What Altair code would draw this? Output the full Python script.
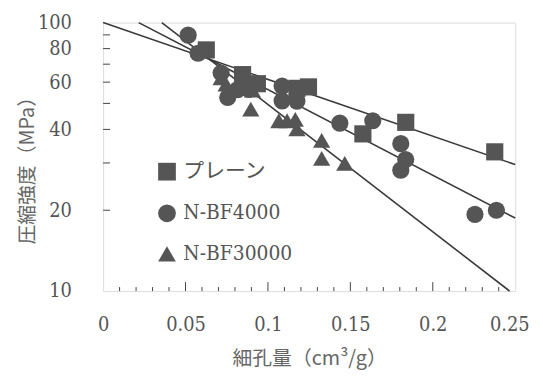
import altair as alt
import pandas as pd

series_names = ["プレーン", "N-BF4000", "N-BF30000"]

plain_x = [0.0626, 0.0846, 0.0936, 0.1176, 0.1246, 0.1576, 0.1836, 0.2376]
plain_y = [79.1, 64.0, 59.2, 56.9, 57.6, 38.5, 42.5, 33.0]

bf4000_x = [0.0516, 0.0576, 0.0716, 0.0756, 0.0816, 0.0886, 0.1086, 0.1086,
            0.1176, 0.1436, 0.1636, 0.1806, 0.1836, 0.1806, 0.2256, 0.2386]
bf4000_y = [89.8, 76.9, 64.9, 52.6, 56.3, 56.4, 58.0, 51.1,
            51.0, 42.2, 43.1, 35.4, 30.9, 28.2, 19.3, 20.0]

bf30000_x = [0.0716, 0.0746, 0.0896, 0.0906, 0.1066, 0.1116, 0.1166, 0.1176,
             0.1326, 0.1326, 0.1466]
bf30000_y = [62.3, 59.0, 47.6, 56.0, 43.1, 43.1, 43.6, 40.2, 36.4, 31.2, 29.9]

# fitted lines (end points)
line_x_start = [0.0, 0.0216, 0.0356]
line_y_start = [100, 100, 100]
line_x_end = [0.25, 0.25, 0.2466]
line_y_end = [29.6, 18.7, 10.0]

x_major_ticks = [0.05, 0.1, 0.15, 0.2]
x_minor_ticks = [0.01, 0.02, 0.03, 0.04, 0.06, 0.07, 0.08, 0.09, 0.11, 0.12,
                 0.13, 0.14, 0.16, 0.17, 0.18, 0.19, 0.21, 0.22, 0.23, 0.24]
y_ticks = [20, 30, 40, 50, 60, 70, 80, 90]
y_labels = [10, 20, 40, 60, 80, 100]
x_labels = [0, 0.05, 0.1, 0.15, 0.2, 0.25]

rows = []
for name, xs, ys in zip(series_names, [plain_x, bf4000_x, bf30000_x],
                        [plain_y, bf4000_y, bf30000_y]):
    for xv, yv in zip(xs, ys):
        rows.append({"series": name, "x": xv, "y": yv})
pts = pd.DataFrame(rows)

lrows = []
for name, x0, y0, x1, y1 in zip(series_names, line_x_start, line_y_start,
                                line_x_end, line_y_end):
    lrows.append({"series": name, "x": x0, "y": y0})
    lrows.append({"series": name, "x": x1, "y": y1})
lines_df = pd.DataFrame(lrows)

W, H = 416, 271
SERIF = "DejaVu Serif Condensed, DejaVu Serif"
SERIF_JP = "DejaVu Serif Condensed, DejaVu Serif, Noto Sans CJK JP"
CJK = "Noto Sans CJK JP"
TXT = "#555555"

xscale = alt.Scale(domain=[0, 0.25], nice=False, zero=False)
yscale = alt.Scale(type="log", domain=[10, 100], nice=False)

xaxis = alt.Axis(values=x_labels, format="~g", ticks=False, tickSize=0, domain=False,
                 grid=False, labelFont=SERIF, labelFontSize=20, labelColor=TXT,
                 labelPadding=24, labelFlush=False,
                 labelAlign=alt.ExprRef(expr="datum.value >= 0.249 ? 'right' : 'center'"),
                 labelOffset=alt.ExprRef(expr="datum.value >= 0.249 ? 14 : 0"),
                 title="細孔量（cm³/g）", titleFont=CJK,
                 titleFontSize=20, titleFontWeight="normal", titleColor="#666666",
                 titlePadding=14)
yaxis = alt.Axis(values=y_labels, format="d", ticks=False, tickSize=0, domain=False,
                 grid=False, labelFont=SERIF, labelFontSize=20, labelColor=TXT,
                 labelPadding=32, labelFlush=False,
                 title="圧縮強度（MPa）", titleFont=CJK,
                 titleFontSize=20, titleFontWeight="normal", titleColor="#666666",
                 titleX=-66, titleY=144)

lines = alt.Chart(lines_df).mark_line(color="#3a3a3a", strokeWidth=1.6).encode(
    x=alt.X("x:Q", scale=xscale, axis=xaxis),
    y=alt.Y("y:Q", scale=yscale, axis=yaxis),
    detail="series:N",
)

points = alt.Chart(pts).mark_point(filled=True, color="#555555", opacity=1,
                                   size=300).encode(
    x=alt.X("x:Q", scale=xscale),
    y=alt.Y("y:Q", scale=yscale),
    shape=alt.Shape("series:N",
                    scale=alt.Scale(domain=series_names,
                                    range=["square", "circle", "triangle-up"]),
                    legend=alt.Legend(title=None, orient="none", legendX=54, legendY=140,
                                      symbolSize=320, symbolFillColor="#555555",
                                      symbolStrokeColor="#555555",
                                      labelFont=SERIF_JP, labelFontSize=21,
                                      labelColor=TXT, rowPadding=17, labelOffset=6,
                                      symbolOpacity=1)),
)

xmaj = alt.Chart(pd.DataFrame({"t": x_major_ticks})).mark_rule(
    color="#444444", strokeWidth=1).encode(
    x=alt.X("t:Q", scale=xscale), y=alt.value(H), y2=alt.value(H - 9))
xmin = alt.Chart(pd.DataFrame({"t": x_minor_ticks})).mark_rule(
    color="#444444", strokeWidth=1).encode(
    x=alt.X("t:Q", scale=xscale), y=alt.value(H), y2=alt.value(H - 4))
ytk = alt.Chart(pd.DataFrame({"t": y_ticks})).mark_rule(
    color="#444444", strokeWidth=1).encode(
    y=alt.Y("t:Q", scale=yscale), x=alt.value(0), x2=alt.value(7))

chart = alt.layer(lines, xmaj, xmin, ytk, points).properties(
    width=W, height=H,
    autosize=alt.AutoSizeParams(type="none"),
    padding={"left": 96, "top": 13, "right": 20, "bottom": 80},
).configure_view(stroke="#333333", strokeWidth=1.6).configure(background="white")

chart.save("out.html", embed_options={"renderer": "svg", "actions": False})
